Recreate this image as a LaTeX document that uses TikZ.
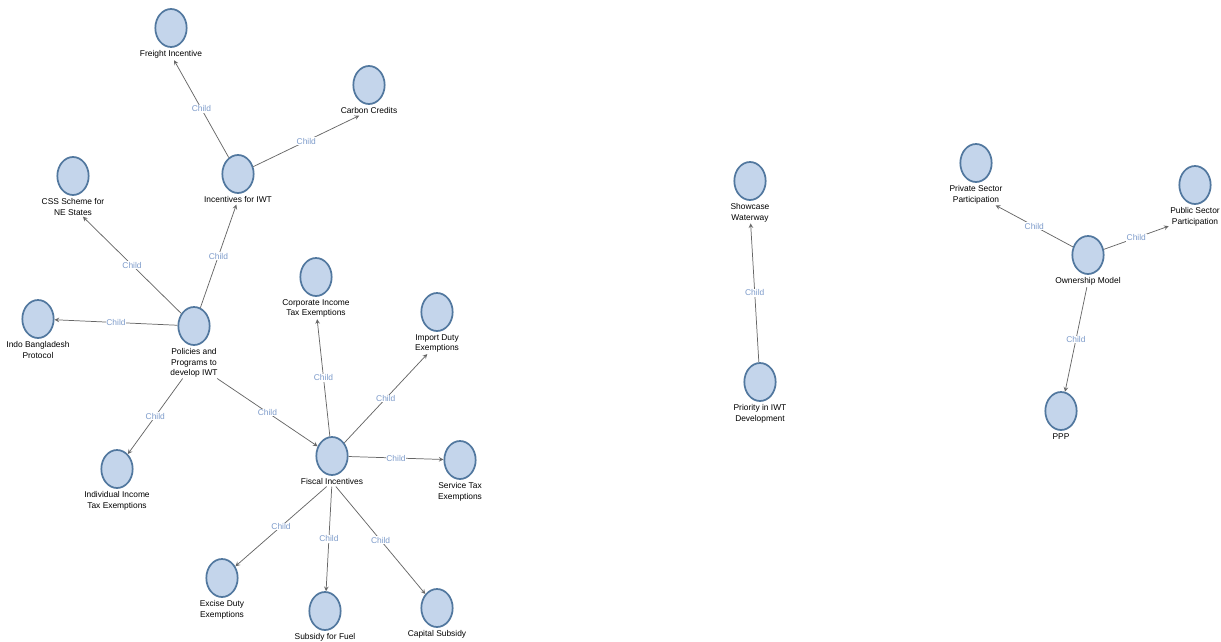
\documentclass[tikz,border=0pt]{standalone}
\usepackage{fontspec}
\setmainfont{Liberation Sans}
\usepackage{tikz}
\usetikzlibrary{shapes,arrows,positioning}

\definecolor{vfill}{HTML}{C4D5EB}
\definecolor{vline}{HTML}{52789F}
\definecolor{reltext}{HTML}{7E9CCB}

\begin{document}
\begin{tikzpicture}[
    x=0.75pt, y=-0.75pt,
    vert/.style={ellipse, draw=vline, fill=vfill, line width=1.3pt, minimum width=23.5pt, minimum height=28.5pt, inner sep=0pt},
    lbl/.style={font=\fontsize{6.3}{7.6}\selectfont, align=center, inner sep=1pt},
    rel/.style={font=\fontsize{6.3}{7.6}\selectfont, text=reltext, fill=white, inner sep=0.6pt},
    arrow/.style={->, >=stealth, draw=black!60, line width=0.55pt}
]
\useasboundingbox (0,0) rectangle (1221,642);
\fill [white] (0,0) rectangle (1221,642);

% Policy tree
\node (pol) [vert] at (194,326) {};
\node (pol-t) [lbl, below=1pt of pol] {Policies and\\Programs to\\develop IWT};
\node (inc) [vert] at (238,174) {};
\node (inc-t) [lbl, below=1pt of inc] {Incentives for IWT};
\node (frt) [vert] at (171,28) {};
\node (frt-t) [lbl, below=1pt of frt] {Freight Incentive};
\node (car) [vert] at (369,85) {};
\node (car-t) [lbl, below=1pt of car] {Carbon Credits};
\node (css) [vert] at (73,176) {};
\node (css-t) [lbl, below=1pt of css] {CSS Scheme for\\NE States};
\node (ind) [vert] at (38,319) {};
\node (ind-t) [lbl, below=1pt of ind] {Indo Bangladesh\\Protocol};
\node (indv) [vert] at (117,469) {};
\node (indv-t) [lbl, below=1pt of indv] {Individual Income\\Tax Exemptions};

% Fiscal incentives
\node (fisc) [vert] at (332,456) {};
\node (fisc-t) [lbl, below=1pt of fisc] {Fiscal Incentives};
\node (corp) [vert] at (316,277) {};
\node (corp-t) [lbl, below=1pt of corp] {Corporate Income\\Tax Exemptions};
\node (imp) [vert] at (437,312) {};
\node (imp-t) [lbl, below=1pt of imp] {Import Duty\\Exemptions};
\node (serv) [vert] at (460,460) {};
\node (serv-t) [lbl, below=1pt of serv] {Service Tax\\Exemptions};
\node (exc) [vert] at (222,578) {};
\node (exc-t) [lbl, below=1pt of exc] {Excise Duty\\Exemptions};
\node (fuel) [vert] at (325,611) {};
\node (fuel-t) [lbl, below=1pt of fuel] {Subsidy for Fuel};
\node (cap) [vert] at (437,608) {};
\node (cap-t) [lbl, below=1pt of cap] {Capital Subsidy};

% Priority
\node (pri) [vert] at (760,382) {};
\node (pri-t) [lbl, below=1pt of pri] {Priority in IWT\\Development};
\node (show) [vert] at (750,181) {};
\node (show-t) [lbl, below=1pt of show] {Showcase\\Waterway};

% Ownership
\node (own) [vert] at (1088,255) {};
\node (own-t) [lbl, below=1pt of own] {Ownership Model};
\node (prv) [vert] at (976,163) {};
\node (prv-t) [lbl, below=1pt of prv] {Private Sector\\Participation};
\node (pub) [vert] at (1195,185) {};
\node (pub-t) [lbl, below=1pt of pub] {Public Sector\\Participation};
\node (ppp) [vert] at (1061,411) {};
\node (ppp-t) [lbl, below=1pt of ppp] {PPP};

% Arrows
\draw [arrow] (inc) -- node [rel] {Child} (frt-t);
\draw [arrow] (inc) -- node [rel] {Child} (car-t);
\draw [arrow] (pol) -- node [rel] {Child} (inc-t);
\draw [arrow] (pol) -- node [rel] {Child} (css-t);
\draw [arrow] (pol) -- node [rel] {Child} (ind);
\draw [arrow] (pol-t) -- node [rel] {Child} (indv);
\draw [arrow] (pol-t) -- node [rel] {Child} (fisc);

\draw [arrow] (fisc) -- node [rel] {Child} (corp-t);
\draw [arrow] (fisc) -- node [rel] {Child} (imp-t);
\draw [arrow] (fisc) -- node [rel] {Child} (serv);
\draw [arrow] (fisc-t) -- node [rel] {Child} (exc);
\draw [arrow] (fisc-t) -- node [rel] {Child} (fuel);
\draw [arrow] (fisc-t) -- node [rel] {Child} (cap);

\draw [arrow] (pri) -- node [rel] {Child} (show-t);

\draw [arrow] (own) -- node [rel] {Child} (prv-t);
\draw [arrow] (own) -- node [rel] {Child} (pub-t);
\draw [arrow] (own-t) -- node [rel] {Child} (ppp);

\end{tikzpicture}
\end{document}
